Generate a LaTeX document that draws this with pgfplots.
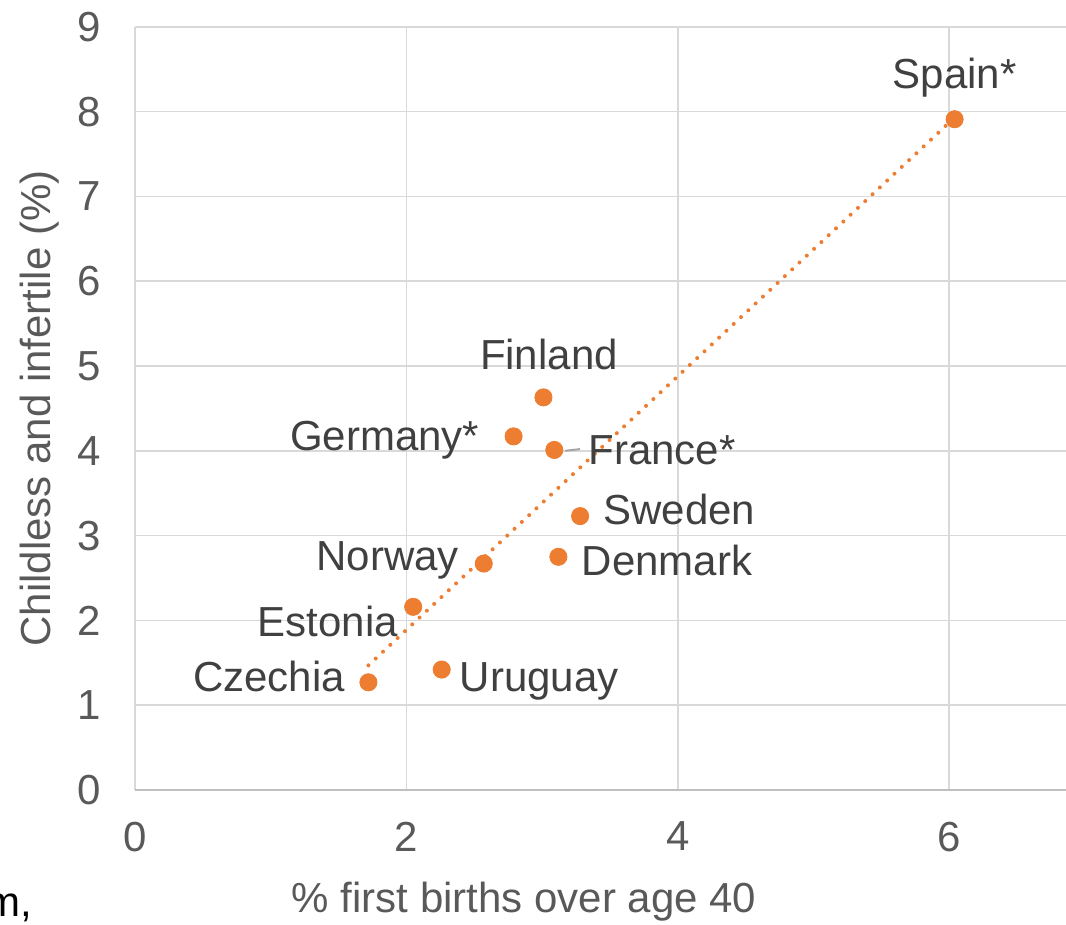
\documentclass[border=0pt]{standalone}
\usepackage{pgfplots}
\pgfplotsset{compat=1.18}
\usepackage{fontspec}
\setmainfont{Liberation Sans}
\definecolor{dotc}{HTML}{ED7D31}
\definecolor{gridc}{HTML}{D9D9D9}
\definecolor{axc}{HTML}{BFBFBF}
\definecolor{tickc}{HTML}{595959}
\definecolor{labc}{HTML}{404040}
\begin{document}
\begin{tikzpicture}
\begin{axis}[
  anchor=origin, at={(0,0)},
  x=67.85pt, y=42.4pt,
  xmin=0, xmax=6.86, ymin=0, ymax=9,
  clip=false,
  axis x line*=bottom, axis y line*=left,
  x axis line style={draw=axc, line width=1pt},
  y axis line style={draw=none},
  xtick={0,2,4,6}, ytick={0,1,...,9},
  major tick length=0pt,
  grid=major,
  major grid style={draw=gridc, line width=0.8pt},
  font=\fontsize{21}{25}\selectfont,
  tick label style={text=tickc, font=\fontsize{21}{25}\selectfont},
  /pgf/number format/assume math mode=true,
  yticklabel style={xshift=-13.5pt},
  xticklabel style={yshift=-12.5pt},
  xlabel={\% first births over age 40},
  ylabel={Childless and infertile (\%)},
  label style={text=tickc, font=\fontsize{21}{25}\selectfont},
  xlabel style={at={(axis description cs:0.418,0)}, anchor=center, yshift=-56pt},
  ylabel style={at={(axis description cs:0,0.5)}, anchor=center, yshift=47.5pt},
]
% trendline
\addplot[dotc, line width=2pt, line cap=round, dash pattern=on 0pt off 5pt] coordinates {(1.72,1.47) (6.04,7.93)};
% France leader
\draw[gray!70, line width=1pt] (axis cs:3.17,4.0) -- (axis cs:3.28,4.02);
% data
\addplot[only marks, mark=*, mark size=4.3pt, dotc, mark options={draw=dotc, fill=dotc}] coordinates {
(6.04,7.91) (3.01,4.63) (2.79,4.17) (3.09,4.01) (3.28,3.23)
(3.12,2.75) (2.57,2.67) (2.05,2.16) (2.26,1.42) (1.72,1.27)};
\begin{scope}[every node/.style={text=labc, font=\fontsize{21}{25}\selectfont, inner sep=0pt}]
\node[anchor=center] at (axis cs:6.04,8.40) {Spain*};
\node[anchor=center] at (axis cs:3.05,5.13) {Finland};
\node[anchor=mid east] at (axis cs:2.54,4.06) {Germany*};
\node[anchor=mid west] at (axis cs:3.34,3.90) {France*};
\node[anchor=mid west] at (axis cs:3.45,3.19) {Sweden};
\node[anchor=mid west] at (axis cs:3.29,2.59) {Denmark};
\node[anchor=mid east] at (axis cs:2.39,2.65) {Norway};
\node[anchor=mid east] at (axis cs:1.94,1.87) {Estonia};
\node[anchor=mid east] at (axis cs:1.55,1.22) {Czechia};
\node[anchor=mid west] at (axis cs:2.39,1.22) {Uruguay};
\end{scope}
\end{axis}
\node[anchor=base east, text=black, font=\fontsize{21}{25}\selectfont, inner sep=0pt] at (-51pt,-63.5pt) {m,};
\pgfresetboundingbox
\useasboundingbox (-67.5pt,-67.5pt) rectangle (465.5pt,395pt);
\end{tikzpicture}
\end{document}
